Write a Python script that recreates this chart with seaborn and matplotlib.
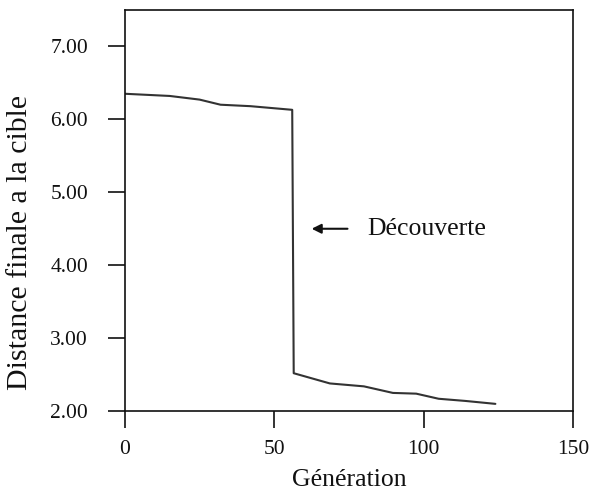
import matplotlib
matplotlib.use("Agg")
import matplotlib.pyplot as plt
import seaborn as sns
import pandas as pd

# valeurs
generation = [0, 15, 25, 32, 42, 56, 56.5, 68.6, 80, 89.7, 97.5, 105, 114, 124]
distance = [6.35, 6.32, 6.27, 6.20, 6.18, 6.13, 2.52, 2.38, 2.34, 2.25, 2.24, 2.17, 2.14, 2.10]

x_ticks = [0, 50, 100, 150]
y_ticks = [2, 3, 4, 5, 6, 7]

df = pd.DataFrame({"Génération": generation, "Distance": distance})

sns.set_style("ticks")
plt.rcParams["font.family"] = ["Liberation Serif", "DejaVu Serif"]

fig = plt.figure(figsize=(5.92, 4.93), dpi=100)
ax = fig.add_axes([0.211, 0.166, 0.757, 0.814])

sns.lineplot(data=df, x="Génération", y="Distance", ax=ax,
             color="#333333", linewidth=1.5, sort=False)

ax.set_xlim(0, 150)
ax.set_ylim(2.0, 7.5)
ax.set_xticks(x_ticks)
ax.set_yticks(y_ticks)
ax.set_yticklabels([f"{v:.2f}" for v in y_ticks])

ax.tick_params(direction="out", length=12.5, width=1.2, colors="#111111",
               labelsize=15.5)
ax.tick_params(axis="y", pad=14)
ax.tick_params(axis="x", pad=8)
for s in ax.spines.values():
    s.set_linewidth(1.2)
    s.set_color("#111111")

ax.set_xlabel("Génération", fontsize=18.5, color="#111111")
ax.set_ylabel("Distance finale a la cible", fontsize=21.5, color="#111111")
ax.xaxis.set_label_coords(0.5, -0.145)
ax.yaxis.set_label_coords(-0.205, 0.42)

# fleche "Découverte"
ax.annotate("", xy=(62.5, 4.5), xytext=(74.5, 4.5),
            arrowprops=dict(arrowstyle="-|>", color="#111111", lw=1.5,
                            shrinkA=0, shrinkB=0, mutation_scale=14))
ax.text(81, 4.5, "Découverte", fontsize=18.5, va="center", ha="left",
        color="#111111")

fig.savefig("out.png", dpi=100)
